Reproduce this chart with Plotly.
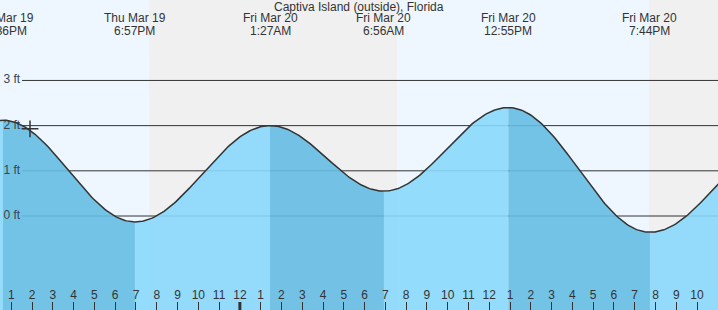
import numpy as np
import plotly.graph_objects as go

# ---- data (hours since Mar 19 00:00) ----
tide_times = [6.2, 12.6, 18.95, 25.45, 30.933, 36.917, 43.733, 50.3]
tide_heights = [0.8, 2.12, -0.13, 2.0, 0.55, 2.4, -0.36, 1.8]
event_dates = ["", "Thu Mar 19", "Thu Mar 19", "Fri Mar 20", "Fri Mar 20", "Fri Mar 20", "Fri Mar 20", ""]
event_times = ["", "12:36PM", "6:57PM", "1:27AM", "6:56AM", "12:55PM", "7:44PM", ""]
sunsets = [19.63, 43.68]
sunrises = [31.56]
y_ticks = [0, 1, 2, 3]
y_tick_labels = ["0 ft", "1 ft", "2 ft", "3 ft"]
hour_ticks = list(range(13, 48))
hour_labels = [str((h - 1) % 12 + 1) for h in hour_ticks]
midnight = 24
now_time = 13.9
now_height = 1.93
title = "Captiva Island (outside), Florida"

X0, X1 = 12.456, 12.456 + 718 / 20.78
Y0, Y1 = -2.08, 4.78

DAY = "#EEF7FF"
NIGHT = "#F0F0F0"
LIGHT = "rgba(138,216,252,0.9)"
DARK = "rgba(101,188,227,0.9)"
INK = "#333333"
FONT = "Liberation Sans, Arial"

fig = go.Figure()

# tide curve: cosine interpolation between extremes
all_x, all_y = [], []
for i in range(len(tide_times) - 1):
    t0, t1 = tide_times[i], tide_times[i + 1]
    h0, h1 = tide_heights[i], tide_heights[i + 1]
    ts = np.linspace(t0, t1, 80)
    hs = h0 + (h1 - h0) * (1 - np.cos(np.pi * (ts - t0) / (t1 - t0))) / 2
    color = DARK if h1 < h0 else LIGHT
    fig.add_trace(go.Scatter(x=list(ts) + [t1, t0], y=list(hs) + [Y0, Y0],
                             fill="toself", fillcolor=color, mode="none",
                             hoverinfo="skip", showlegend=False))
    all_x += list(ts)
    all_y += list(hs)

# y labels
fig.add_trace(go.Scatter(x=[X0 + 0.17] * len(y_ticks), y=y_ticks, mode="text", text=y_tick_labels,
                         textposition="middle right",
                         textfont=dict(family=FONT, size=12, color="#3a4650"),
                         hoverinfo="skip", showlegend=False))

fig.add_trace(go.Scatter(x=all_x, y=all_y, mode="lines",
                         line=dict(color=INK, width=1.5), hoverinfo="skip", showlegend=False))

fig.add_trace(go.Scatter(x=[now_time], y=[now_height], mode="markers",
                         marker=dict(symbol="cross-thin", size=12, line=dict(color=INK, width=1.5)),
                         hoverinfo="skip", showlegend=False))

shapes = []
# day / night backgrounds
bounds = [X0] + sorted(sunsets + sunrises) + [X1]
is_day = True
for a, b in zip(bounds[:-1], bounds[1:]):
    shapes.append(dict(type="rect", xref="x", yref="paper", x0=a, x1=b, y0=0, y1=1,
                       fillcolor=DAY if is_day else NIGHT, line=dict(width=0), layer="below"))
    is_day = not is_day
# grid lines
for v in y_ticks:
    shapes.append(dict(type="line", xref="paper", yref="y", x0=22 / 718, x1=1, y0=v, y1=v,
                       line=dict(color=INK, width=1), layer="below"))
# thick midnight tick
shapes.append(dict(type="line", xref="x", yref="paper", x0=midnight, x1=midnight,
                   ysizemode="pixel", yanchor=0, y0=0, y1=8,
                   line=dict(color=INK, width=3), layer="above"))

annotations = [dict(text=title, x=0.5, y=1, xref="paper", yref="paper", xanchor="center",
                    yanchor="top", yshift=2, showarrow=False,
                    font=dict(family=FONT, size=12, color=INK))]
for t, d, tm in zip(tide_times, event_dates, event_times):
    if not d:
        continue
    annotations.append(dict(text=d, x=t, y=1, xref="x", yref="paper", xanchor="center",
                            yanchor="middle", yshift=-18, showarrow=False,
                            font=dict(family=FONT, size=12, color=INK)))
    annotations.append(dict(text=tm, x=t, y=1, xref="x", yref="paper", xanchor="center",
                            yanchor="middle", yshift=-31, showarrow=False,
                            font=dict(family=FONT, size=12, color=INK)))

fig.update_layout(
    width=718, height=310, margin=dict(l=0, r=0, t=0, b=0),
    paper_bgcolor="white", plot_bgcolor=DAY,
    shapes=shapes, annotations=annotations,
    xaxis=dict(range=[X0, X1], showgrid=False, zeroline=False, showline=False,
               tickvals=hour_ticks, ticktext=hour_labels, ticks="inside", ticklen=8,
               tickwidth=1, tickcolor=INK, ticklabelposition="inside",
               tickfont=dict(family=FONT, size=12, color=INK)),
    yaxis=dict(range=[Y0, Y1], showgrid=False, zeroline=False, showline=False,
               showticklabels=False, ticks=""),
)

fig.write_html("out.html")
